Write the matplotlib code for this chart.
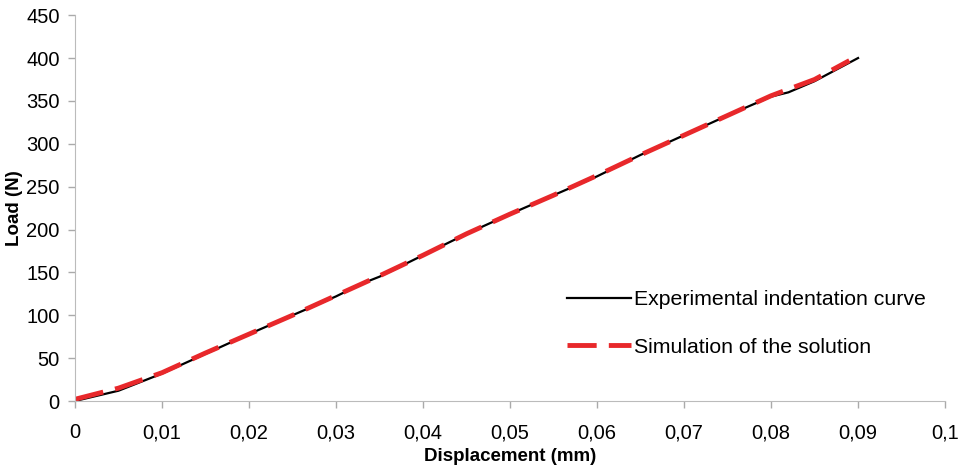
import matplotlib.pyplot as plt
import numpy as np

plt.rcParams['font.family'] = ['Liberation Sans', 'DejaVu Sans']

# Experimental indentation curve (mm, N)
exp_disp = [0, 0.005, 0.01, 0.015, 0.02, 0.025, 0.03, 0.033, 0.035, 0.04, 0.045,
            0.05, 0.055, 0.06, 0.065, 0.07, 0.075, 0.08, 0.082, 0.085, 0.09]
exp_load = [0, 12, 32, 55, 78, 100, 122, 137, 145, 170, 195,
            218, 240, 262, 287, 310, 333, 355, 360, 373, 400]

# Simulated solution
sim_disp = [0, 0.005, 0.01, 0.015, 0.02, 0.025, 0.03, 0.035, 0.04, 0.045,
            0.05, 0.055, 0.06, 0.065, 0.07, 0.075, 0.08, 0.085, 0.089]
sim_load = [2, 15, 33, 56, 78, 100, 123, 146, 170, 195,
            218, 240, 263, 287, 310, 333, 356, 375, 397]

x_ticks = [0, 0.01, 0.02, 0.03, 0.04, 0.05, 0.06, 0.07, 0.08, 0.09, 0.1]
x_tick_labels = ['0', '0,01', '0,02', '0,03', '0,04', '0,05', '0,06', '0,07', '0,08', '0,09', '0,1']
y_ticks = [0, 50, 100, 150, 200, 250, 300, 350, 400, 450]

fig = plt.figure(figsize=(9.7, 4.74), dpi=100)
ax = fig.add_axes([0.0773, 0.154, 0.897, 0.814])

ax.plot(exp_disp, exp_load, color='black', linewidth=1.6, label='Experimental indentation curve')
ax.plot(sim_disp, sim_load, color='#e8282b', linewidth=3.5, dashes=(6, 2.5),
        label='Simulation of the solution')

ax.set_xlim(0, 0.1)
ax.set_ylim(0, 450)
ax.set_xticks(x_ticks)
ax.set_xticklabels(x_tick_labels)
ax.set_yticks(y_ticks)
ax.tick_params(axis='both', labelsize=14.5, colors='#aaaaaa', labelcolor='black',
               length=5, width=1)
ax.tick_params(axis='x', pad=11)
ax.tick_params(axis='y', pad=6)

for side in ['top', 'right']:
    ax.spines[side].set_visible(False)
for side in ['left', 'bottom']:
    ax.spines[side].set_color('#bbbbbb')

ax.set_xlabel('Displacement (mm)', fontsize=13.5, fontweight='bold', labelpad=4)
ax.set_ylabel('Load (N)', fontsize=13.5, fontweight='bold', labelpad=2)

ax.legend(loc='lower right', bbox_to_anchor=(1.0, 0.065), frameon=False, fontsize=15.3,
          handlelength=3.0, labelspacing=1.35, handletextpad=0.15)

fig.savefig('out.png', dpi=100)
